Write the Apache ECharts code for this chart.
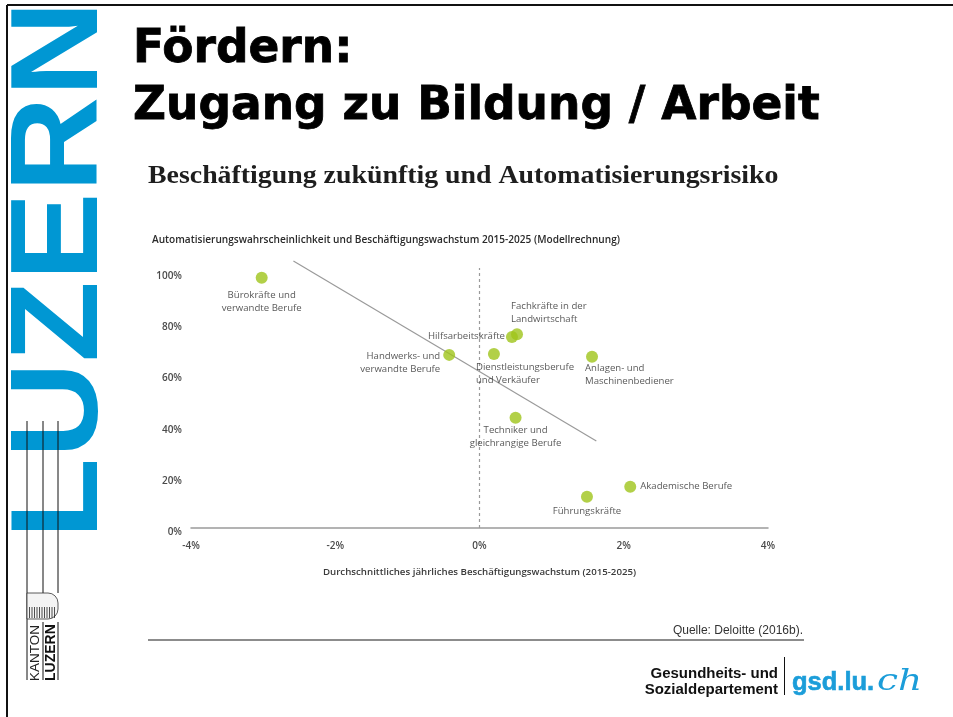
<!DOCTYPE html>
<html><head><meta charset="utf-8">
<script src="https://cdn.jsdelivr.net/npm/echarts@6/dist/echarts.min.js"></script>
<style>html,body{margin:0;padding:0;background:#fff}#c{width:953px;height:717px}</style>
</head><body><div id="c"></div>
<script>
// ---- data ----
const occupations = [
  'Bürokräfte und\nverwandte Berufe',
  'Handwerks- und\nverwandte Berufe',
  'Hilfsarbeitskräfte',
  'Fachkräfte in der\nLandwirtschaft',
  'Dienstleistungsberufe\nund Verkäufer',
  'Anlagen- und\nMaschinenbediener',
  'Techniker und\ngleichrangige Berufe',
  'Akademische Berufe',
  'Führungskräfte'
];
const growth = [-3.02, -0.42, 0.45, 0.52, 0.20, 1.56, 0.50, 2.09, 1.49];
const automationRisk = [97.6, 67.5, 74.5, 75.5, 67.8, 66.8, 43.0, 16.1, 12.2];
const trendGrowth = [-2.58, 1.62];
const trendRisk = [104.1, 33.9];
const zeroLineRisk = [0, 101.4];
const xTicks = [-4, -2, 0, 2, 4];
const yTicks = [0, 20, 40, 60, 80, 100];

// ---- label placement (style) ----
const labelPlace = [
  {pos: [6, 17.5], align: 'center'},
  {pos: [-3, 0.5], align: 'right'},
  {pos: [-1, -1.5], align: 'right'},
  {pos: [0, -28.5], align: 'left'},
  {pos: [-12, 12.5], align: 'left'},
  {pos: [-1, 11], align: 'left'},
  {pos: [6, 12.5], align: 'center'},
  {pos: [16, -0.5], align: 'left'},
  {pos: [6, 14.5], align: 'center'}
];

const green = '#9fc41a';
const blue = '#0097d3';

const scatterData = occupations.map((n, i) => ({
  value: [growth[i], automationRisk[i]],
  name: n,
  label: {
    show: true,
    formatter: n,
    position: labelPlace[i].pos,
    align: labelPlace[i].align,
    verticalAlign: 'top',
    lineHeight: 13,
    fontSize: 9.6,
    fontFamily: 'Open Sans',
    color: '#2e2e2e'
  }
}));

const stripes = [];
for (let k = 0; k < 11; k++) {
  const x = 29.5 + k * 2.5;
  stripes.push({type: 'line', shape: {x1: x, y1: 607, x2: x, y2: 618}, style: {stroke: '#222', lineWidth: 0.8}});
}

const chart = echarts.init(document.getElementById('c'), null, {renderer: 'canvas'});
chart.setOption({
  animation: false,
  backgroundColor: '#fff',
  grid: {left: 191, right: 185, top: 258.7, bottom: 189},
  xAxis: {
    type: 'value',
    min: xTicks[0], max: xTicks[xTicks.length - 1], interval: xTicks[1] - xTicks[0],
    name: 'Durchschnittliches jährliches Beschäftigungswachstum (2015-2025)',
    nameLocation: 'middle', nameGap: 39,
    nameTextStyle: {fontFamily: 'Open Sans', fontSize: 9.7, fontWeight: 600, color: '#3a3a3a'},
    axisLine: {show: true, onZero: false, lineStyle: {color: '#9a9a9a', width: 1.5}},
    axisTick: {show: false},
    splitLine: {show: false},
    axisLabel: {margin: 13, formatter: '{value}%', fontFamily: 'Open Sans', fontSize: 10, fontWeight: 600, color: '#4a4a4a'}
  },
  yAxis: {
    type: 'value',
    min: yTicks[0], max: yTicks[yTicks.length - 1] + 5, interval: yTicks[1] - yTicks[0],
    axisLine: {show: false},
    axisTick: {show: false},
    splitLine: {show: false},
    axisLabel: {showMaxLabel: false, margin: 9, verticalAlign: 'top', lineHeight: 9, formatter: '{value}%', fontFamily: 'Open Sans', fontSize: 10, fontWeight: 600, color: '#4a4a4a'}
  },
  series: [
    {
      type: 'line', silent: true, symbol: 'none',
      data: zeroLineRisk.map(v => [0, v]),
      lineStyle: {color: '#9a9a9a', width: 1.2, type: [3, 3]}
    },
    {
      type: 'line', silent: true, symbol: 'none',
      data: trendGrowth.map((g, i) => [g, trendRisk[i]]),
      lineStyle: {color: '#9a9a9a', width: 1.2}
    },
    {
      type: 'scatter', symbolSize: 12,
      itemStyle: {color: green},
      data: scatterData,
      z: 5
    }
  ],
  graphic: [
    // slide frame
    {type: 'line', shape: {x1: 7, y1: 5, x2: 953, y2: 5}, style: {stroke: '#111', lineWidth: 2}},
    {type: 'line', shape: {x1: 7, y1: 5, x2: 7, y2: 717}, style: {stroke: '#111', lineWidth: 2}},
    // LUZERN vertical brand
    {type: 'text', x: 62.5, y: 539, rotation: Math.PI / 2, scaleX: 1.07,
      style: {text: 'LUZERN', fontFamily: 'Liberation Sans', fontWeight: 'bold', fontSize: 124, fill: blue, align: 'left', verticalAlign: 'middle'}},
    // Kanton Luzern small logo lines
    {type: 'line', shape: {x1: 27, y1: 421, x2: 27, y2: 680}, style: {stroke: '#111', lineWidth: 1}},
    {type: 'line', shape: {x1: 43, y1: 421, x2: 43, y2: 593}, style: {stroke: '#111', lineWidth: 1}},
    {type: 'line', shape: {x1: 58, y1: 421, x2: 58, y2: 593}, style: {stroke: '#111', lineWidth: 1}},
    {type: 'line', shape: {x1: 43, y1: 622, x2: 43, y2: 680}, style: {stroke: '#111', lineWidth: 1}},
    {type: 'line', shape: {x1: 58, y1: 622, x2: 58, y2: 680}, style: {stroke: '#111', lineWidth: 1}},
    {type: 'rect', shape: {x: 27, y: 593, width: 31, height: 26, r: [0, 10, 10, 0]}, style: {fill: '#f4f4f4', stroke: '#333', lineWidth: 0.8}},
    {type: 'group', children: stripes},
    {type: 'text', x: 35, y: 681, rotation: Math.PI / 2,
      style: {text: 'KANTON', fontFamily: 'Liberation Sans', fontSize: 13.5, fill: '#222', align: 'left', verticalAlign: 'middle'}},
    {type: 'text', x: 51, y: 681, rotation: Math.PI / 2,
      style: {text: 'LUZERN', fontFamily: 'Liberation Sans', fontWeight: 'bold', fontSize: 14, fill: '#111', align: 'left', verticalAlign: 'middle'}},
    // slide title
    {type: 'text', x: 133, y: 50, style: {text: 'Fördern:', fontFamily: 'DejaVu Sans', fontWeight: 'bold', fontSize: 45.5, fill: '#000', stroke: '#000', lineWidth: 0.8, align: 'left', verticalAlign: 'middle'}},
    {type: 'text', x: 133, y: 107, style: {text: 'Zugang zu Bildung / Arbeit', fontFamily: 'DejaVu Sans', fontWeight: 'bold', fontSize: 45.5, fill: '#000', stroke: '#000', lineWidth: 0.8, align: 'left', verticalAlign: 'middle'}},
    // chart title
    {type: 'text', x: 148, y: 176, scaleX: 1.071, style: {text: 'Beschäftigung zukünftig und Automatisierungsrisiko', fontFamily: 'Liberation Serif', fontWeight: 'bold', fontSize: 26, fill: '#1e1e1e', align: 'left', verticalAlign: 'middle'}},
    {type: 'text', x: 152, y: 240, style: {text: 'Automatisierungswahrscheinlichkeit und Beschäftigungswachstum 2015-2025 (Modellrechnung)', fontFamily: 'Open Sans', fontWeight: 600, fontSize: 10.1, fill: '#2a2a2a', align: 'left', verticalAlign: 'middle'}},
    // source
    {type: 'text', x: 803, y: 631, style: {text: 'Quelle: Deloitte (2016b).', fontFamily: 'Liberation Sans', fontSize: 12, fill: '#333', align: 'right', verticalAlign: 'middle'}},
    {type: 'line', shape: {x1: 148, y1: 640, x2: 804, y2: 640}, style: {stroke: '#666', lineWidth: 1.5}},
    // footer logo
    {type: 'text', x: 778, y: 674, style: {text: 'Gesundheits- und', fontFamily: 'Liberation Sans', fontWeight: 'bold', fontSize: 15, fill: '#111', align: 'right', verticalAlign: 'middle'}},
    {type: 'text', x: 778, y: 690, style: {text: 'Sozialdepartement', fontFamily: 'Liberation Sans', fontWeight: 'bold', fontSize: 15, fill: '#111', align: 'right', verticalAlign: 'middle'}},
    {type: 'line', shape: {x1: 784.5, y1: 657, x2: 784.5, y2: 695}, style: {stroke: '#111', lineWidth: 1}},
    {type: 'text', x: 792, y: 683, style: {text: 'gsd.lu.', fontFamily: 'Liberation Sans', fontWeight: 'bold', fontSize: 25.5, fill: '#1b9dd9', stroke: '#1b9dd9', lineWidth: 0.6, align: 'left', verticalAlign: 'middle'}},
    {type: 'text', x: 877, y: 682, scaleX: 1.25, style: {text: 'ch', fontFamily: 'DejaVu Serif', fontStyle: 'italic', fontSize: 30, fill: '#1b9dd9', align: 'left', verticalAlign: 'middle'}}
  ]
});
</script>
</body></html>
